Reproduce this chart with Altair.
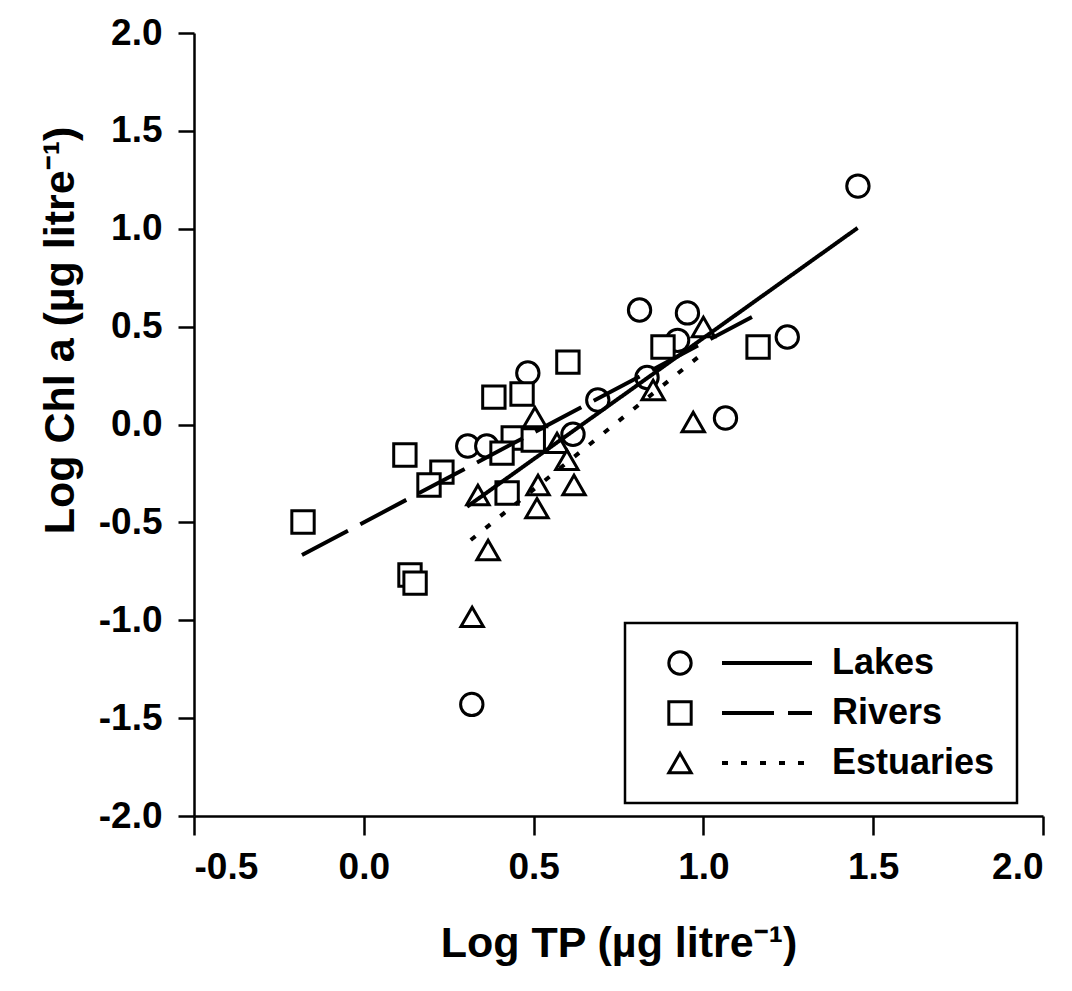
import altair as alt
import pandas as pd

# ---------------- data ----------------
series_names = ["Lakes", "Rivers", "Estuaries"]

lakes_x = [1.455, 0.812, 0.953, 0.924, 0.483, 0.689, 0.834, 1.247, 1.065, 0.616, 0.306, 0.362, 0.318]
lakes_y = [1.218, 0.585, 0.570, 0.430, 0.263, 0.125, 0.240, 0.447, 0.033, -0.050, -0.110, -0.110, -1.430]

rivers_x = [-0.179, 0.121, 0.230, 0.192, 0.136, 0.151, 0.383, 0.466, 0.601, 0.440, 0.499, 0.407, 0.422, 0.881, 1.161]
rivers_y = [-0.498, -0.156, -0.243, -0.309, -0.769, -0.810, 0.140, 0.156, 0.319, -0.069, -0.079, -0.146, -0.350, 0.396, 0.396]

est_x = [1.000, 0.852, 0.970, 0.504, 0.569, 0.598, 0.336, 0.513, 0.619, 0.510, 0.366, 0.319]
est_y = [0.498, 0.176, 0.013, 0.038, -0.094, -0.181, -0.360, -0.309, -0.309, -0.427, -0.641, -0.983]

# regression lines: end points
fit_names = ["Lakes fit", "Rivers fit", "Estuaries fit"]
fit_x0 = [0.304, -0.182, 0.315]
fit_x1 = [1.454, 1.143, 0.985]
fit_y0 = [-0.420, -0.667, -0.590]
fit_y1 = [1.004, 0.549, 0.345]

x_ticks = [-0.5, 0.0, 0.5, 1.0, 1.5, 2.0]
y_ticks = [-2.0, -1.5, -1.0, -0.5, 0.0, 0.5, 1.0, 1.5, 2.0]

# ---------------- tables ----------------
rows = []
for name, xs, ys in zip(series_names, [lakes_x, rivers_x, est_x], [lakes_y, rivers_y, est_y]):
    for xv, yv in zip(xs, ys):
        rows.append({"Type": name, "x": xv, "y": yv})
pts = pd.DataFrame(rows)

lrows = []
for name, a, b, c, d in zip(fit_names, fit_x0, fit_x1, fit_y0, fit_y1):
    lrows.append({"Fit": name, "x": a, "y": c})
    lrows.append({"Fit": name, "x": b, "y": d})
lines_df = pd.DataFrame(lrows)

FONT = "Liberation Sans"
label_expr = "(datum.value < 0 ? '-' : '') + format(abs(datum.value), '.1f')"

x_enc = alt.X(
    "x:Q",
    scale=alt.Scale(domain=[-0.5, 2.0], nice=False, zero=False),
    axis=alt.Axis(
        values=x_ticks, labelExpr=label_expr, grid=False,
        title="Log TP (µg litre⁻¹)",
        titleY=106, titleBaseline="top",
        tickSize=19, labelPadding=14,
    ),
)
y_enc = alt.Y(
    "y:Q",
    scale=alt.Scale(domain=[-2.0, 2.0], nice=False, zero=False),
    axis=alt.Axis(
        values=y_ticks, labelExpr=label_expr, grid=False,
        title="Log Chl a (µg litre⁻¹)",
        titleX=-112, titleY=297,
        tickSize=16, labelPadding=16,
    ),
)

points = alt.Chart(pts).mark_point(
    filled=False, color="black", fill="white", strokeWidth=3, opacity=1, size=500
).encode(
    x=x_enc,
    y=y_enc,
    shape=alt.Shape(
        "Type:N",
        scale=alt.Scale(domain=series_names, range=["circle", "square", "triangle-up"]),
        legend=alt.Legend(
            title=None, orient="none", legendX=431, legendY=590,
            padding=22, strokeColor="black", clipHeight=36,
            symbolSize=500, symbolStrokeWidth=3, symbolOffset=15,
            labelOffset=134, labelFont=FONT, labelFontSize=36, labelFontWeight="bold",
            labelColor="black", labelLimit=400, rowPadding=14,
        ),
    ),
)

lines = alt.Chart(lines_df).mark_line(
    color="black", strokeWidth=4
).encode(
    x="x:Q",
    y="y:Q",
    strokeDash=alt.StrokeDash(
        "Fit:N",
        scale=alt.Scale(domain=fit_names, range=[[1, 0], [52, 14], [6, 13]]),
        legend=alt.Legend(
            title=None, orient="none", legendX=526, legendY=612,
            padding=0, symbolType="stroke", symbolSize=8100, clipHeight=36,
            symbolStrokeWidth=4, symbolStrokeColor="black", symbolOffset=0,
            labelExpr="''", labelFontSize=36, rowPadding=14,
        ),
    ),
)

chart = alt.layer(points, lines).properties(
    width=849, height=783,
    autosize=alt.AutoSizeParams(type="none"),
    padding={"left": 194, "top": 33, "right": 29, "bottom": 175},
    background="white",
).configure_view(stroke=None).configure_axis(
    domainColor="black", domainWidth=2.5, tickColor="black", tickWidth=2.5,
    labelFont=FONT, labelFontSize=37, labelFontWeight="bold", labelColor="black",
    titleFont=FONT, titleFontSize=43, titleFontWeight="bold", titleColor="black",
).configure_legend(strokeWidth=2.5)

chart.save("out.html", embed_options={"renderer": "svg", "actions": False})
